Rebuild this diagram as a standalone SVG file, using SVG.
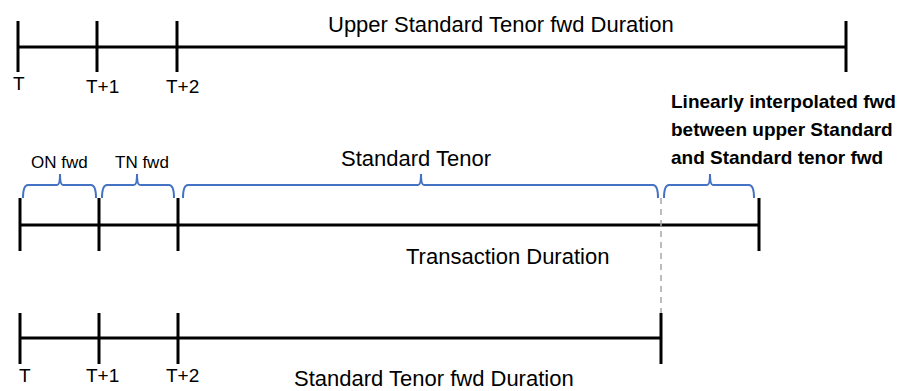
<svg xmlns="http://www.w3.org/2000/svg" width="898" height="391" viewBox="0 0 898 391">
  <style>
    .axis { stroke: #000; stroke-width: 3; fill: none; }
    .brace { stroke: #4472C4; stroke-width: 2; fill: none; }
    .guide { stroke: #A6A6A6; stroke-width: 1.5; stroke-dasharray: 6 5; fill: none; }
    text { font-family: "Liberation Sans", Arial, sans-serif; fill: #000; }
    .big { font-size: 22px; }
    .tick { font-size: 19px; }
    .small { font-size: 17px; }
    .note { font-size: 19px; font-weight: bold; }
  </style>

  <!-- Upper standard tenor timeline -->
  <g id="upper-timeline">
    <path class="axis" d="M18 47 H846 M18 21 V72 M97 21 V72 M177 21 V72 M846 21 V72"/>
    <text class="tick" x="13" y="90">T</text>
    <text class="tick" x="86" y="93">T+1</text>
    <text class="tick" x="166" y="93">T+2</text>
    <text class="big" x="328" y="32">Upper Standard Tenor fwd Duration</text>
  </g>

  <!-- Transaction timeline -->
  <g id="transaction-timeline">
    <path class="axis" d="M20 225 H759 M20 198 V251 M99 198 V251 M178 198 V251 M759 198 V251"/>
    <text class="big" x="406" y="264">Transaction Duration</text>
  </g>

  <!-- Lower standard tenor timeline -->
  <g id="standard-timeline">
    <path class="axis" d="M20 338 H661 M20 313 V364 M99 313 V364 M178 313 V364 M661 313 V364"/>
    <text class="tick" x="19" y="382">T</text>
    <text class="tick" x="86" y="382">T+1</text>
    <text class="tick" x="166" y="382">T+2</text>
    <text class="big" x="294" y="386">Standard Tenor fwd Duration</text>
  </g>

  <!-- Period braces -->
  <g id="on-fwd">
    <path class="brace" d="M23 198 Q23 185 28 185 H57 Q60 185 60 174 Q60 185 63 185 H91 Q96 185 96 198"/>
    <text class="small" x="31" y="168">ON fwd</text>
  </g>
  <g id="tn-fwd">
    <path class="brace" d="M102 198 Q102 185 107 185 H134 Q137 185 137 174 Q137 185 140 185 H169 Q174 185 174 198"/>
    <text class="small" x="115" y="168">TN fwd</text>
  </g>
  <g id="standard-tenor">
    <path class="brace" d="M183 198 Q183 185 188 185 H418 Q421 185 421 174 Q421 185 424 185 H653 Q658 185 658 198"/>
    <text class="big" x="341" y="166">Standard Tenor</text>
  </g>
  <g id="interpolated-fwd">
    <path class="brace" d="M664 198 Q664 185 669 185 H707 Q710 185 710 174 Q710 185 713 185 H749 Q754 185 754 198"/>
    <text class="note" x="671" y="108">Linearly interpolated fwd</text>
    <text class="note" x="671" y="136">between upper Standard</text>
    <text class="note" x="671" y="164">and Standard tenor fwd</text>
  </g>

  <!-- Connectors -->
  <g id="connectors">
    <path class="guide" d="M661 198 V313"/>
  </g>
</svg>
